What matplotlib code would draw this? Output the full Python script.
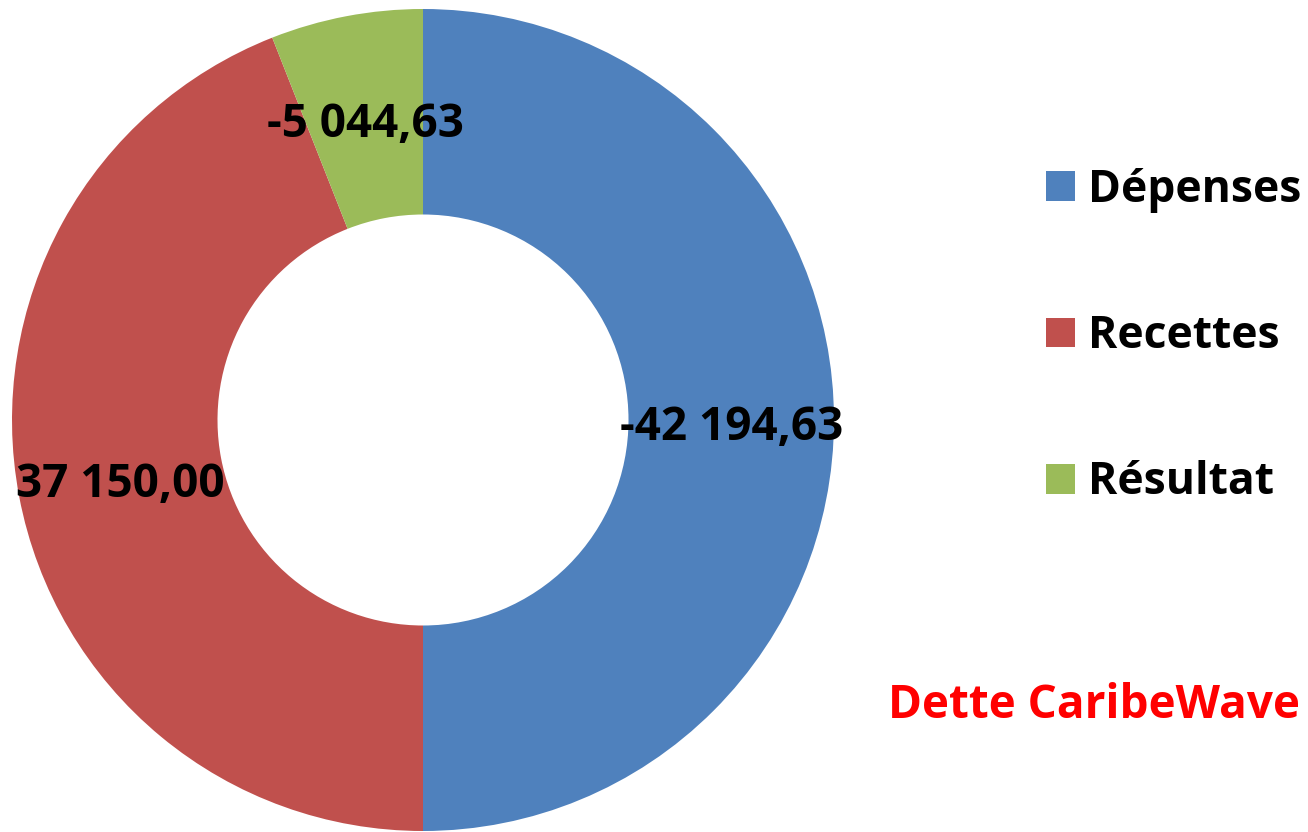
import numpy as np
import matplotlib.pyplot as plt

plt.rcParams['font.family'] = ['Open Sans', 'DejaVu Sans']
plt.rcParams['font.weight'] = 'bold'

# Données du graphique
categories = ['Dépenses', 'Recettes', 'Résultat']
valeurs = [-42194.63, 37150.00, -5044.63]
couleurs = ['#4F81BD', '#C0504D', '#9BBB59']
note = 'Dette CaribeWave'


def fmt(v):
    # format français : espace pour les milliers, virgule décimale
    s = f"{v:,.2f}".replace(',', ' ').replace('.', ',')
    return s


W, H = 1308, 832
fig = plt.figure(figsize=(W / 100, H / 100), dpi=100)
ax = fig.add_axes([0, 0, 1, 1])

cx, cy = 423, H - 420
r = 411
largeur = 0.5

wedges, _ = ax.pie(np.abs(valeurs), colors=couleurs, startangle=90,
                   counterclock=False, center=(cx, cy), radius=r,
                   wedgeprops=dict(width=r * largeur, linewidth=0),
                   frame=True)
ax.set_xlim(0, W)
ax.set_ylim(0, H)
ax.set_aspect('equal')
ax.axis('off')

# étiquettes au milieu de l'anneau
for w, v in zip(wedges, valeurs):
    ang = np.deg2rad((w.theta1 + w.theta2) / 2)
    rr = r * (1 - largeur / 2)
    ax.text(cx + rr * np.cos(ang), cy + rr * np.sin(ang) - 7, fmt(v),
            ha='center', va='center', fontsize=33, fontweight='bold',
            color='black')

fig.legend(wedges, categories, loc='upper left',
           bbox_to_anchor=(1028 / W, 1 - 150 / H), frameon=False,
           fontsize=32, handlelength=0.66, handleheight=0.66,
           handletextpad=0.3, labelspacing=2.28, borderaxespad=0)

fig.text(888 / W, 1 - 718 / H, note, color='#FF0000', fontsize=33,
         fontweight='bold', ha='left', va='baseline')

fig.savefig('out.png', dpi=100)
